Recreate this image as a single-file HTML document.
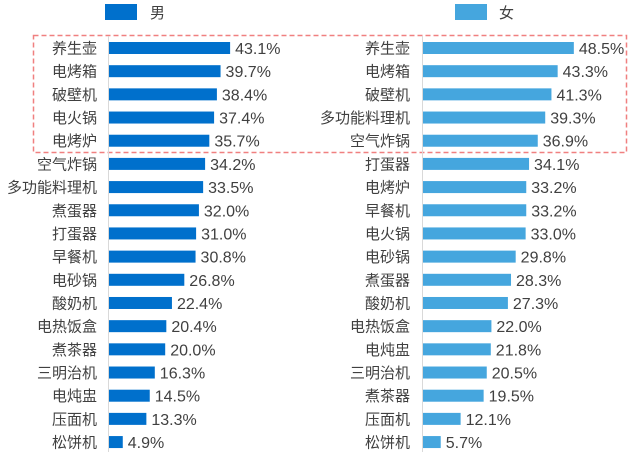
<!DOCTYPE html><html><head><meta charset="utf-8"><style>
body{margin:0;background:#fff;width:640px;height:466px;overflow:hidden}
svg text{font-family:"Liberation Sans","Noto Sans CJK SC",sans-serif;font-size:15px;fill:#404040}
svg text.v{font-size:16px}
</style></head><body>
<svg width="640" height="466" xmlns="http://www.w3.org/2000/svg" id="s">
<rect x="105" y="4" width="32" height="16" fill="#0070CC"/>
<text x="150" y="18">男</text>
<rect x="455" y="4" width="32" height="16" fill="#45A6DE"/>
<text x="499" y="18">女</text>
<rect x="33.5" y="35.5" width="593" height="117" fill="none" stroke="#F08080" stroke-width="1.5" stroke-dasharray="5,3"/>
<line x1="108.5" y1="36" x2="108.5" y2="452" stroke="#d9d9d9"/>
<line x1="422.5" y1="36" x2="422.5" y2="452" stroke="#d9d9d9"/>
<g id="g"></g>
</svg>
<script>
var L=[["养生壶",43.1],["电烤箱",39.7],["破壁机",38.4],["电火锅",37.4],["电烤炉",35.7],["空气炸锅",34.2],["多功能料理机",33.5],["煮蛋器",32.0],["打蛋器",31.0],["早餐机",30.8],["电砂锅",26.8],["酸奶机",22.4],["电热饭盒",20.4],["煮茶器",20.0],["三明治机",16.3],["电炖盅",14.5],["压面机",13.3],["松饼机",4.9]];
var R=[["养生壶",48.5],["电烤箱",43.3],["破壁机",41.3],["多功能料理机",39.3],["空气炸锅",36.9],["打蛋器",34.1],["电烤炉",33.2],["早餐机",33.2],["电火锅",33.0],["电砂锅",29.8],["煮蛋器",28.3],["酸奶机",27.3],["电热饭盒",22.0],["电炖盅",21.8],["三明治机",20.5],["煮茶器",19.5],["压面机",12.1],["松饼机",5.7]];
var h="";
function side(d,x0,k,lx,c){d.forEach(function(r,i){var cy=48+i*23.18,w=r[1]*k;
h+='<rect x="'+x0+'" y="'+(cy-6)+'" width="'+w+'" height="12" fill="'+c+'"/>';
h+='<text x="'+lx+'" y="'+(cy+5.5)+'" text-anchor="end">'+r[0]+'</text>';
h+='<text class="v" x="'+(x0+w+5)+'" y="'+(cy+6)+'">'+r[1].toFixed(1)+'%</text>';});}
side(L,109,2.81,97,"#0070CC");side(R,423,3.11,410,"#45A6DE");
document.getElementById("g").innerHTML=h;
</script>
</body></html>
